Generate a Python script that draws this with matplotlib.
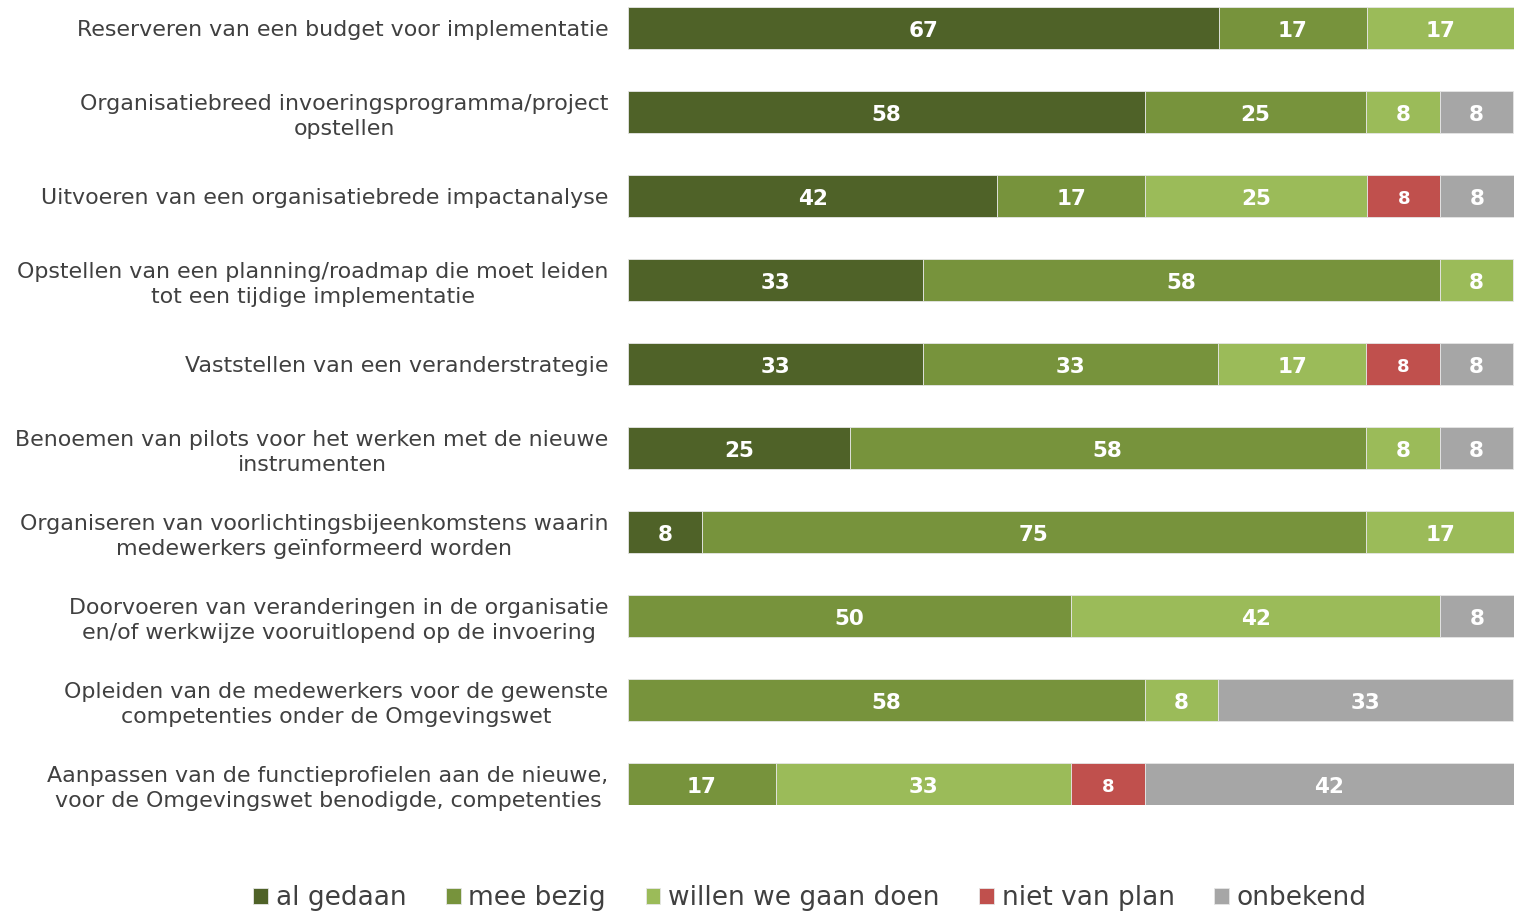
import matplotlib.pyplot as plt
import numpy as np

categorieen = [
    "Reserveren van een budget voor implementatie",
    "Organisatiebreed invoeringsprogramma/project\nopstellen",
    "Uitvoeren van een organisatiebrede impactanalyse",
    "Opstellen van een planning/roadmap die moet leiden\ntot een tijdige implementatie",
    "Vaststellen van een veranderstrategie",
    "Benoemen van pilots voor het werken met de nieuwe\ninstrumenten",
    "Organiseren van voorlichtingsbijeenkomstens waarin\nmedewerkers geïnformeerd worden",
    "Doorvoeren van veranderingen in de organisatie\nen/of werkwijze vooruitlopend op de invoering",
    "Opleiden van de medewerkers voor de gewenste\ncompetenties onder de Omgevingswet",
    "Aanpassen van de functieprofielen aan de nieuwe,\nvoor de Omgevingswet benodigde, competenties",
]

series = ["al gedaan", "mee bezig", "willen we gaan doen", "niet van plan", "onbekend"]
al_gedaan = [66.7, 58.3, 41.7, 33.3, 33.3, 25.0, 8.3, 0, 0, 0]
mee_bezig = [16.7, 25.0, 16.7, 58.3, 33.3, 58.3, 75.0, 50.0, 58.3, 16.7]
willen = [16.7, 8.3, 25.0, 8.3, 16.7, 8.3, 16.7, 41.7, 8.3, 33.3]
niet_van_plan = [0, 0, 8.3, 0, 8.3, 0, 0, 0, 0, 8.3]
onbekend = [0, 8.3, 8.3, 0, 8.3, 8.3, 0, 8.3, 33.3, 41.7]
kleuren = ["#4F6228", "#77933C", "#9BBB59", "#C0504D", "#A6A6A6"]

waarden = [al_gedaan, mee_bezig, willen, niet_van_plan, onbekend]

fig = plt.figure(figsize=(15.14, 9.13), dpi=100)
ax = fig.add_axes([628 / 1514, 1 - 805 / 913, 886 / 1514, 798 / 913])

y = np.arange(len(categorieen))
links = np.zeros(len(categorieen))
for naam, vals, kleur in zip(series, waarden, kleuren):
    vals = np.array(vals)
    ax.barh(y, vals, left=links, height=0.5, color=kleur, label=naam,
            edgecolor="#E6E6E6", linewidth=0.6)
    for i, v in enumerate(vals):
        if v > 0:
            grootte = 13 if naam == "niet van plan" else 15.5
            ax.text(links[i] + v / 2, y[i] + 0.03, f"{v:.0f}", ha="center", va="center",
                    color="white", fontsize=grootte, fontweight="bold")
    links += vals

ax.set_xlim(0, 100)
ax.set_ylim(9.25, -0.25)
ax.set_yticks(y)
ax.set_yticklabels(categorieen, fontsize=15.9, color="#404040", linespacing=1.3)
for lbl in ax.get_yticklabels():
    lbl.set_multialignment("center")
ax.tick_params(axis="y", length=0, pad=14)
ax.set_xticks([])
for s in ax.spines.values():
    s.set_visible(False)

handles, labels = ax.get_legend_handles_labels()
fig.legend(handles, labels, loc="center", bbox_to_anchor=(810 / 1514, 1 - 898 / 913),
           ncol=5, frameon=False, fontsize=19, labelcolor="#404040",
           handlelength=0.55, handleheight=0.55, handletextpad=0.3, columnspacing=1.5)

fig.savefig("out.png", dpi=100)
